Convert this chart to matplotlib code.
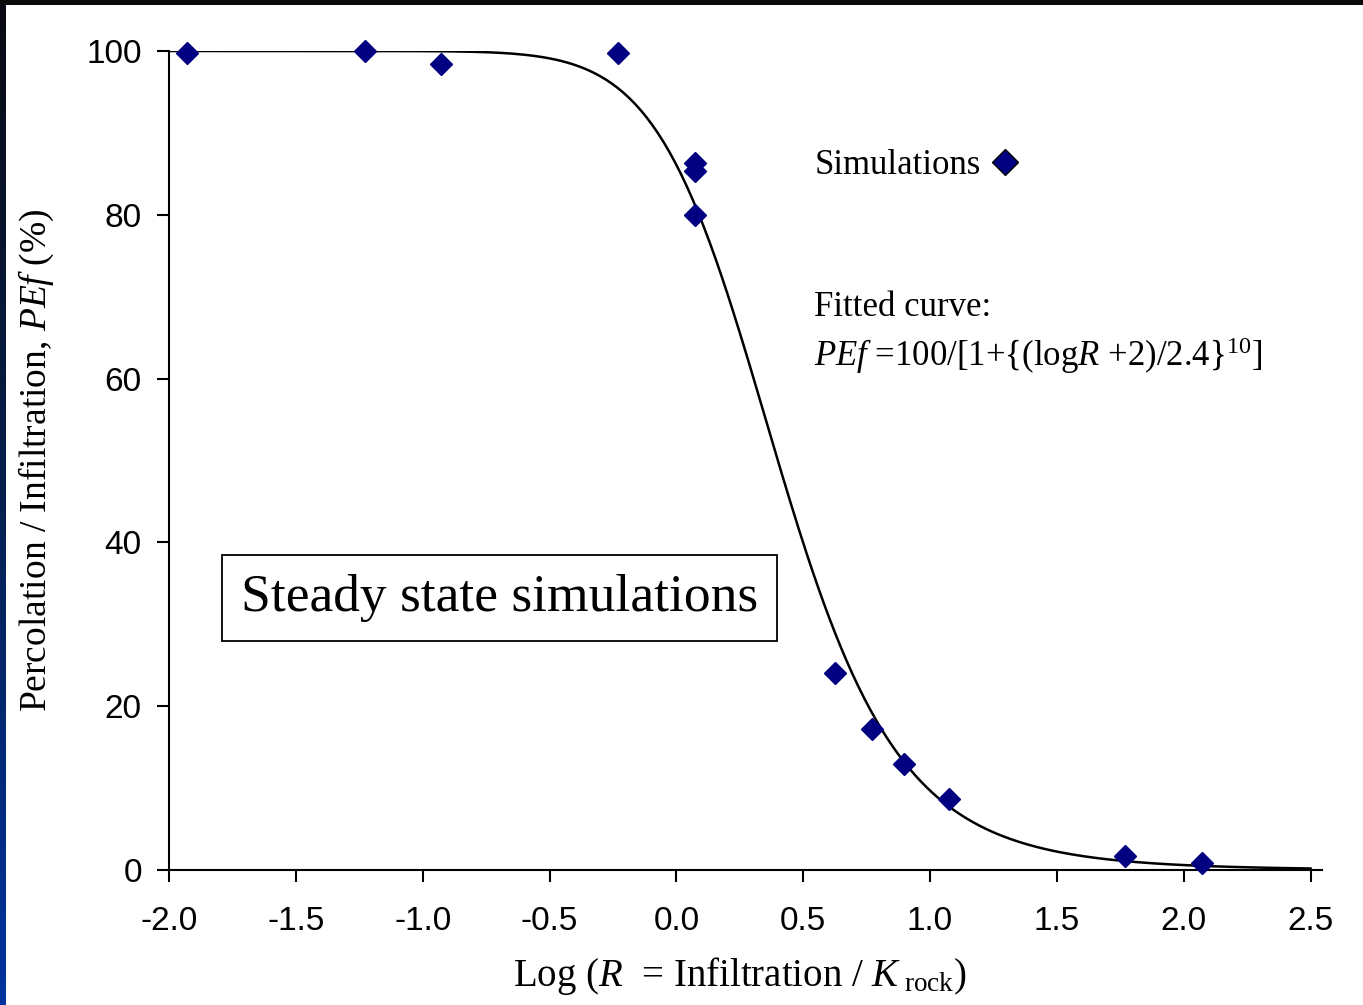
import numpy as np
import matplotlib
matplotlib.use('Agg')
import matplotlib.pyplot as plt
from matplotlib.patches import Rectangle

# Simulation results
log_r = [-1.928, -1.228, -0.929, -0.230, 0.073, 0.073, 0.073,
         0.626, 0.770, 0.898, 1.075, 1.770, 2.072]
pef = [99.7, 100.0, 98.4, 99.8, 86.3, 85.3, 80.0,
       24.1, 17.2, 12.9, 8.7, 1.7, 0.8]

# Fitted curve as stated on the chart: PEf = 100/[1+{(logR+2)/2.4}^10]
fit_shift = 2.0
fit_scale = 2.4
fit_power = 10
x_fit = np.linspace(-2.0, 2.5, 400)
y_fit = 100 / (1 + ((x_fit + fit_shift) / fit_scale) ** fit_power)

x_ticks = [-2.0, -1.5, -1.0, -0.5, 0.0, 0.5, 1.0, 1.5, 2.0, 2.5]
y_ticks = [0, 20, 40, 60, 80, 100]

plt.rcParams['mathtext.fontset'] = 'custom'
plt.rcParams['mathtext.rm'] = 'Liberation Serif'
plt.rcParams['mathtext.it'] = 'Liberation Serif:italic'

serif = 'Liberation Serif'
sans = 'Liberation Sans'
navy = '#000080'

fig = plt.figure(figsize=(13.63, 10.05), dpi=100)

# slide frame: dark top bar and blue gradient strip on the left
fig.patches.append(Rectangle((0, 1 - 5 / 1005), 1, 5 / 1005, transform=fig.transFigure,
                             facecolor='#0a0a0a', edgecolor='none'))
strip = fig.add_axes([0, 0, 6 / 1363, 1])
grad = np.linspace(0, 1, 256).reshape(-1, 1)
strip.imshow(grad, aspect='auto', cmap=matplotlib.colors.LinearSegmentedColormap.from_list(
    'frame', ['#0a0a12', '#06204f', '#0033a0']), origin='upper')
strip.axis('off')

ax = fig.add_axes([169 / 1363, 135 / 1005, 1153 / 1363, 819 / 1005])

ax.plot(x_fit, y_fit, color='black', lw=1.8, zorder=2)
ax.plot(log_r, pef, linestyle='none', marker='D', markersize=11.5,
        color=navy, markeredgecolor=navy, zorder=3, clip_on=False,
        label='Simulations')

ax.set_xlim(-2.0, 2.545)
ax.set_ylim(0, 100)
ax.set_xticks(x_ticks)
ax.set_xticklabels([f'{v:.1f}' for v in x_ticks])
ax.set_yticks(y_ticks)

for side in ['top', 'right']:
    ax.spines[side].set_visible(False)
for side in ['left', 'bottom']:
    ax.spines[side].set_linewidth(1.5)
ax.tick_params(axis='both', direction='out', length=8.6, width=1.5,
               labelsize=24, colors='black')
ax.tick_params(axis='y', pad=11)
ax.tick_params(axis='x', pad=17)
for lbl in ax.get_xticklabels() + ax.get_yticklabels():
    lbl.set_family(sans)

ax.set_xlabel(r'Log ($\mathit{R}$  = Infiltration / $\mathit{K}_{\ \rm rock}$)',
              fontsize=28, family=serif)
ax.xaxis.set_label_coords(0.495, -0.104)
ax.set_ylabel(r'Percolation / Infiltration, $\mathit{PEf}$ (%)',
              fontsize=27, family=serif)
ax.yaxis.set_label_coords(-0.098, 0.5)

leg = ax.legend(loc='center left', bbox_to_anchor=(0.560, 0.860), frameon=False,
                markerfirst=False, handlelength=0.7, handletextpad=0.35,
                borderpad=0, borderaxespad=0, prop={'family': serif, 'size': 25})
for h in leg.legend_handles:
    h.set_markeredgecolor('black')
    h.set_markeredgewidth(1.0)
    h.set_markersize(13)

ax.text(0.543, 68.7, 'Fitted curve:', fontsize=25, family=serif, va='center')
ax.text(0.543, 62.8, r'$\mathit{PEf}$ =100/[1+{(log$\mathit{R}$ +2)/2.4}$^{10}$]',
        fontsize=25, family=serif, va='center')

ax.text(-0.697, 33.2, 'Steady state simulations', fontsize=38.5, family=serif,
        ha='center', va='center',
        bbox=dict(boxstyle='square,pad=0.35', facecolor='white',
                  edgecolor='black', linewidth=1.3))

fig.savefig('out.png', dpi=100, facecolor='white')
